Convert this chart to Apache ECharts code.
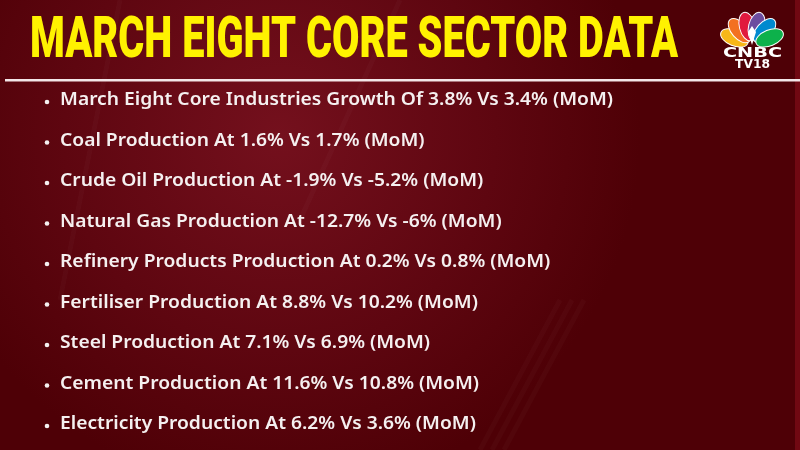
<!DOCTYPE html>
<html>
<head>
<meta charset="utf-8">
<script src="https://cdn.jsdelivr.net/npm/echarts@6/dist/echarts.min.js"></script>
<style>
  html, body { margin: 0; padding: 0; background: #5a0008; }
  #chart { width: 800px; height: 450px; }
</style>
</head>
<body>
<div id="chart"></div>
<script>
const titleText = 'MARCH EIGHT CORE SECTOR DATA'
const sectorLabels = [
  'March Eight Core Industries Growth Of',
  'Coal Production At',
  'Crude Oil Production At',
  'Natural Gas Production At',
  'Refinery Products Production At',
  'Fertiliser Production At',
  'Steel Production At',
  'Cement Production At',
  'Electricity Production At'
]
const marchValues = [3.8, 1.6, -1.9, -12.7, 0.2, 8.8, 7.1, 11.6, 6.2]
const febValues = [3.4, 1.7, -5.2, -6, 0.8, 10.2, 6.9, 10.8, 3.6]
const featherColors = ['#f7b718', '#f37021', '#e1193e', '#6c4c9f', '#0089cf', '#0db14b']
const featherAngles = [-68, -41, -14, 14, 41, 68]

// measure text widths so condensed fonts can be faked with scaleX
const ctx = document.createElement('canvas').getContext('2d')
function textWidth(txt, font) {
  ctx.font = font
  return ctx.measureText(txt).width
}

const titleFont = '900 57px Roboto'
const titleScale = 648 / textWidth(titleText, titleFont)

const lines = sectorLabels.map((lab, i) =>
  lab + ' ' + marchValues[i] + '% Vs ' + febValues[i] + '% (MoM)')
const bodyFont = '600 18.5px "Noto Sans"'
const bodyScale = 553 / textWidth(lines[0], bodyFont)

const cnbcFont = 'bold 14px "DejaVu Sans"'
const cnbcScale = 59 / textWidth('CNBC', cnbcFont)
const tvFont = 'bold 13px "DejaVu Sans"'
const tvScale = 35 / textWidth('TV18', tvFont)

const graphic = []

// background
graphic.push({
  type: 'rect',
  shape: { x: 0, y: 0, width: 800, height: 450 },
  style: {
    fill: new echarts.graphic.RadialGradient(0.35, 0.3, 0.8, [
      { offset: 0, color: '#74101d' },
      { offset: 0.6, color: '#5e0610' },
      { offset: 1, color: '#4e0006' }
    ])
  },
  z: 0
})
graphic.push({
  type: 'rect',
  shape: { x: 795, y: 0, width: 5, height: 450 },
  style: { fill: '#700812' },
  z: 1
})
// faint streaks
const streaks = [[560, 300, 480, 450], [572, 300, 492, 450], [584, 300, 504, 450], [400, 0, 300, 220], [120, 0, 60, 300]]
streaks.forEach(s => {
  graphic.push({
    type: 'line',
    shape: { x1: s[0], y1: s[1], x2: s[2], y2: s[3] },
    style: { stroke: 'rgba(255,255,255,0.025)', lineWidth: 5 },
    z: 1
  })
})

// title
graphic.push({
  type: 'text',
  x: 30, y: 43,
  scaleX: titleScale,
  style: {
    text: titleText,
    font: titleFont,
    fill: '#fff200',
    textAlign: 'left',
    textVerticalAlign: 'middle'
  },
  z: 5
})

// divider
graphic.push({
  type: 'rect',
  shape: { x: 5, y: 79, width: 795, height: 2.5 },
  style: { fill: '#f3e6e8' },
  z: 5
})

// bullet lines
lines.forEach((txt, i) => {
  const cy = 100 + i * 40.5
  graphic.push({
    type: 'circle',
    shape: { cx: 47, cy: cy + 2, r: 2.3 },
    style: { fill: '#f5f0f0' },
    z: 5
  })
  graphic.push({
    type: 'text',
    x: 60, y: cy,
    scaleX: bodyScale,
    style: {
      text: txt,
      font: bodyFont,
      fill: '#f5f0f0',
      textAlign: 'left',
      textVerticalAlign: 'middle'
    },
    z: 5
  })
})

// logo
featherColors.forEach((c, i) => {
  graphic.push({
    type: 'ellipse',
    x: 752, y: 45,
    rotation: -featherAngles[i] * Math.PI / 180,
    shape: { cx: 0, cy: -19, rx: 8, ry: 14.5 },
    style: { fill: c, stroke: '#ffffff', lineWidth: 1 },
    z: 6
  })
})
graphic.push({
  type: 'polygon',
  shape: { points: [[752, 45], [748, 32], [752, 26], [756, 32]] },
  style: { fill: '#ffffff' },
  z: 7
})
graphic.push({
  type: 'text',
  x: 723, y: 53,
  scaleX: cnbcScale,
  style: {
    text: 'CNBC',
    font: cnbcFont,
    fill: '#ffffff',
    textAlign: 'left',
    textVerticalAlign: 'middle'
  },
  z: 8
})
graphic.push({
  type: 'text',
  x: 735, y: 65,
  scaleX: tvScale,
  style: {
    text: 'TV18',
    font: tvFont,
    fill: '#ffffff',
    textAlign: 'left',
    textVerticalAlign: 'middle'
  },
  z: 8
})

const myChart = echarts.init(document.getElementById('chart'))
myChart.setOption({
  animation: false,
  graphic: graphic
})
</script>
</body>
</html>
